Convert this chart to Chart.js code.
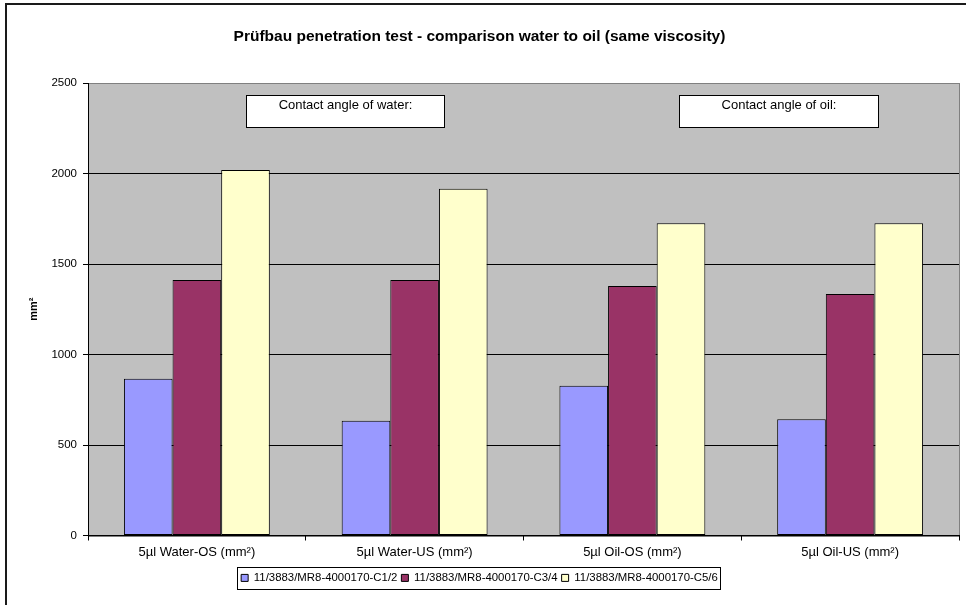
<!DOCTYPE html>
<html>
<head>
<meta charset="utf-8">
<title>Prüfbau penetration test</title>
<script src="https://cdn.jsdelivr.net/npm/chart.js@4/dist/chart.umd.min.js"></script>
<style>
    html, body { margin: 0; padding: 0; background: #fff; }
    #wrap { width: 966px; height: 605px; }
</style>
</head>
<body>
<div id="wrap"><canvas id="penetrationChart" width="966" height="605"></canvas></div>
<script>
// test spots, one group of bars each
const categories = ['5µl Water-OS (mm²)', '5µl Water-US (mm²)', '5µl Oil-OS (mm²)', '5µl Oil-US (mm²)'];

// wetted area per sample (mm²)
const seriesNames = ['11/3883/MR8-4000170-C1/2', '11/3883/MR8-4000170-C3/4', '11/3883/MR8-4000170-C5/6'];
const c12Values = [866, 634, 828, 642];
const c34Values = [1411, 1411, 1378, 1334];
const c56Values = [2019, 1916, 1725, 1725];
const seriesColors = ['#9999FF', '#993366', '#FFFFCC'];

const yTicks = [0, 500, 1000, 1500, 2000, 2500];

// empty note boxes inside the plot (fractions of the plot area)
const noteTexts = ['Contact angle of water:', 'Contact angle of oil:'];
const noteBoxes = [
    { x0: 0.181, x1: 0.408, y0: 0.027, y1: 0.097 },
    { x0: 0.678, x1: 0.907, y0: 0.027, y1: 0.097 }
];

const FONT = "'Liberation Sans', Arial, sans-serif";

const frameAndBackground = {
    id: 'frameAndBackground',
    beforeDraw(chart) {
        const ctx = chart.ctx;
        const a = chart.chartArea;
        ctx.save();
        ctx.fillStyle = '#ffffff';
        ctx.fillRect(0, 0, chart.width, chart.height);
        // outer chart frame, right/bottom run off the canvas
        ctx.strokeStyle = '#1a1a1a';
        ctx.lineWidth = 2;
        ctx.strokeRect(6, 4, chart.width + 10, chart.height + 10);
        // plot area
        ctx.fillStyle = '#C0C0C0';
        ctx.fillRect(a.left, a.top, a.right - a.left, a.bottom - a.top);
        ctx.strokeStyle = '#808080';
        ctx.lineWidth = 1;
        ctx.strokeRect(Math.round(a.left) + 0.5, Math.round(a.top) + 0.5,
            Math.round(a.right - a.left), Math.round(a.bottom - a.top));
        ctx.restore();
    }
};

const notesAndLegendBox = {
    id: 'notesAndLegendBox',
    afterDraw(chart) {
        const ctx = chart.ctx;
        const a = chart.chartArea;
        const w = a.right - a.left;
        const h = a.bottom - a.top;
        ctx.save();
        noteBoxes.forEach((b, i) => {
            const x = Math.round(a.left + b.x0 * w) + 0.5;
            const y = Math.round(a.top + b.y0 * h) + 0.5;
            const bw = Math.round((b.x1 - b.x0) * w);
            const bh = Math.round((b.y1 - b.y0) * h);
            ctx.fillStyle = '#ffffff';
            ctx.fillRect(x, y, bw, bh);
            ctx.strokeStyle = '#000000';
            ctx.lineWidth = 1;
            ctx.strokeRect(x, y, bw, bh);
            ctx.fillStyle = '#000000';
            ctx.font = '13px ' + FONT;
            ctx.textAlign = 'center';
            ctx.textBaseline = 'middle';
            ctx.fillText(noteTexts[i], x + bw / 2, y + 10);
        });

        // border around the legend row
        const lg = chart.legend;
        if (lg && lg.legendHitBoxes && lg.legendHitBoxes.length) {
            const boxes = lg.legendHitBoxes;
            const left = Math.min(...boxes.map(hb => hb.left)) - 4;
            const right = Math.max(...boxes.map(hb => hb.left + hb.width)) + 2;
            const mid = boxes[0].top + boxes[0].height / 2;
            ctx.strokeStyle = '#000000';
            ctx.lineWidth = 1;
            ctx.strokeRect(Math.round(left) + 0.5, Math.round(mid - 11) + 0.5,
                Math.round(right - left), 22);
        }
        ctx.restore();
    }
};

const datasets = [c12Values, c34Values, c56Values].map((values, i) => ({
    label: seriesNames[i],
    data: values,
    backgroundColor: seriesColors[i],
    borderColor: '#000000',
    borderWidth: 1,
    borderSkipped: false,
    categoryPercentage: 0.67,
    barPercentage: 1.0
}));

new Chart(document.getElementById('penetrationChart'), {
    type: 'bar',
    data: { labels: categories, datasets: datasets },
    options: {
        responsive: false,
        animation: false,
        devicePixelRatio: 1,
        layout: { padding: { left: 0, right: 7, top: 0, bottom: 11.4 } },
        plugins: {
            title: {
                display: true,
                text: 'Prüfbau penetration test - comparison water to oil (same viscosity)',
                color: '#000000',
                font: { family: FONT, size: 15.5, weight: 'bold' },
                padding: { top: 27.7, bottom: 36.7 }
            },
            legend: {
                position: 'bottom',
                labels: {
                    boxWidth: 7,
                    boxHeight: 7,
                    padding: 4,
                    color: '#000000',
                    font: { family: FONT, size: 11.4 }
                }
            },
            tooltip: { enabled: false }
        },
        scales: {
            x: {
                grid: {
                    display: true,
                    drawOnChartArea: false,
                    offset: true,
                    color: '#000000',
                    tickLength: 5
                },
                border: { color: '#000000' },
                ticks: {
                    color: '#000000',
                    padding: 4,
                    font: { family: FONT, size: 13 }
                },
                afterFit(scale) { scale.height = 32.7; }
            },
            y: {
                min: 0,
                max: 2500,
                afterBuildTicks(scale) {
                    scale.ticks = yTicks.map(v => ({ value: v }));
                },
                grid: {
                    color: ctx => (ctx.tick && ctx.tick.value === 2500) ? '#808080' : '#000000',
                    tickColor: '#000000',
                    tickLength: 5
                },
                border: { color: '#000000' },
                ticks: {
                    color: '#000000',
                    padding: 6,
                    font: { family: FONT, size: 11.5 },
                    callback: v => String(v)
                },
                title: {
                    display: true,
                    text: 'mm²',
                    color: '#000000',
                    font: { family: FONT, size: 11, weight: 'bold' },
                    padding: { top: 27, bottom: 0 }
                },
                afterFit(scale) { scale.width = 88; }
            }
        }
    },
    plugins: [frameAndBackground, notesAndLegendBox]
});
</script>
</body>
</html>
